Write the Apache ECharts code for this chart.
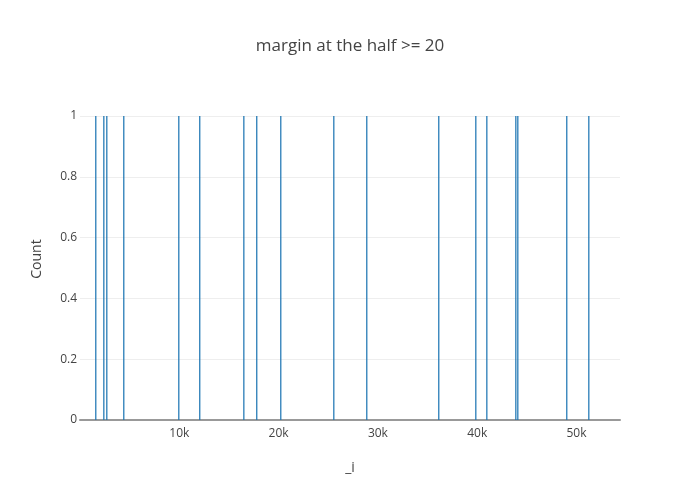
<!DOCTYPE html>
<html>
<head>
<meta charset="utf-8">
<script src="https://cdn.jsdelivr.net/npm/echarts@6/dist/echarts.min.js"></script>
<style>html,body{margin:0;padding:0;background:#fff}#c{width:700px;height:500px}</style>
</head>
<body>
<div id="c"></div>
<script>
const binPositions = [1590, 2400, 2700, 4410, 9950, 12060, 16500, 17800, 20220, 25560, 28880, 36130, 39860, 40970, 43890, 44090, 49020, 51240];
const counts = [1, 1, 1, 1, 1, 1, 1, 1, 1, 1, 1, 1, 1, 1, 1, 1, 1, 1];
const xTickValues = [10000, 20000, 30000, 40000, 50000];
const xTickLabels = ['10k', '20k', '30k', '40k', '50k'];
const yTickLabels = ['0', '0.2', '0.4', '0.6', '0.8', '1'];

const chart = echarts.init(document.getElementById('c'), null, {renderer: 'canvas'});
const font = '"Open Sans", "Noto Sans", sans-serif';
chart.setOption({
  animation: false,
  title: {
    text: 'margin at the half >= 20',
    left: 'center', top: 33,
    textStyle: {fontFamily: font, fontSize: 17, fontWeight: 'normal', color: '#444'}
  },
  graphic: [{
    type: 'text',
    x: 37, y: 259,
    rotation: Math.PI / 2,
    style: {text: 'Count', fill: '#444', font: '14px ' + font, align: 'center', verticalAlign: 'middle'}
  }],
  grid: {left: 80, right: 80, top: 116, bottom: 80, containLabel: false},
  xAxis: {
    type: 'value', min: 0, max: 54380, interval: 10000,
    name: '_i', nameLocation: 'middle', nameGap: 41,
    nameTextStyle: {fontFamily: font, fontSize: 14, color: '#444'},
    axisLine: {show: true, lineStyle: {color: '#999', width: 2}},
    axisTick: {show: false},
    splitLine: {show: false},
    axisLabel: {
      showMinLabel: false, showMaxLabel: false,
      fontFamily: font, fontSize: 12, color: '#444', margin: 8,
      formatter: v => { const i = xTickValues.indexOf(v); return i >= 0 ? xTickLabels[i] : ''; }
    }
  },
  yAxis: {
    type: 'value', min: 0, max: 1, interval: 0.2,
    axisLine: {show: false},
    axisTick: {show: false},
    splitLine: {show: true, lineStyle: {color: '#eee', width: 1}},
    axisLabel: {
      fontFamily: font, fontSize: 12, color: '#444', margin: 3,
      formatter: v => yTickLabels[Math.round(v / 0.2)]
    }
  },
  series: [{
    type: 'bar',
    barWidth: 1.25,
    itemStyle: {color: '#1f77b4'},
    data: binPositions.map((x, i) => [x, counts[i]])
  }]
});
</script>
</body>
</html>
